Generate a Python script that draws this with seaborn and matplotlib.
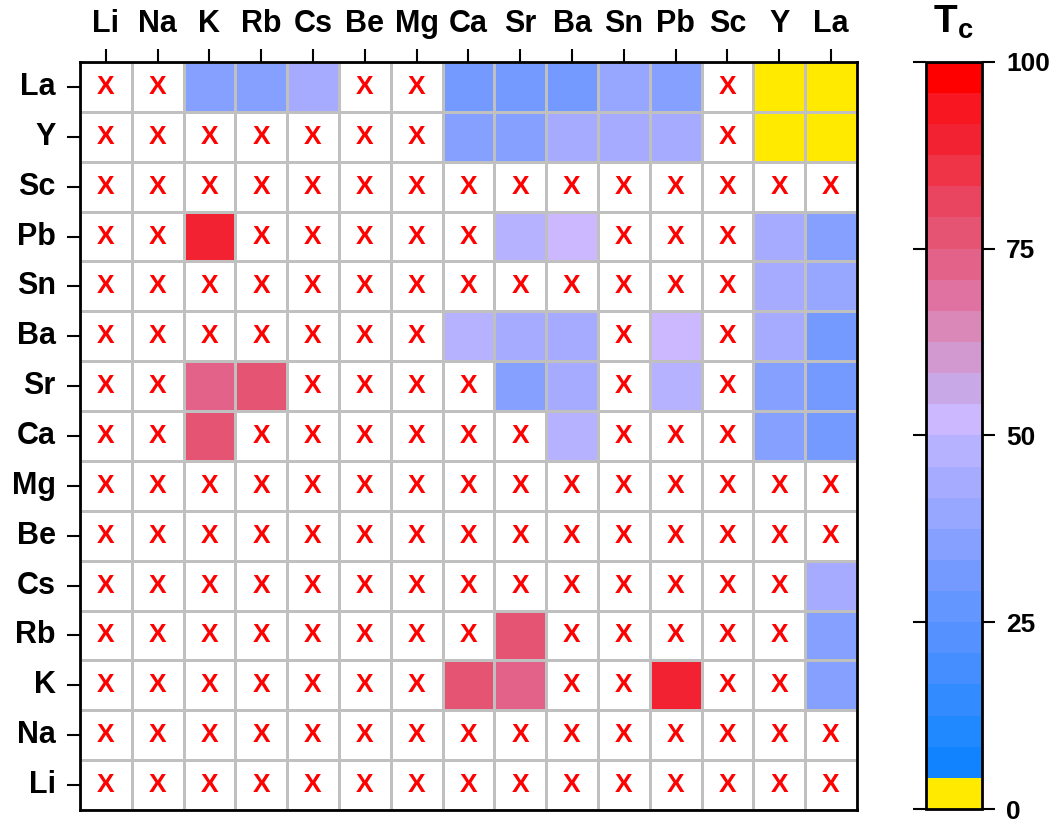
import numpy as np
import pandas as pd
import matplotlib
matplotlib.use('Agg')
import matplotlib.pyplot as plt
from matplotlib.colors import ListedColormap, BoundaryNorm
import seaborn as sns

plt.rcParams['font.family'] = ['Liberation Sans', 'DejaVu Sans']
plt.rcParams['font.weight'] = 'bold'
plt.rcParams['mathtext.fontset'] = 'custom'
plt.rcParams['mathtext.bf'] = 'Liberation Sans:bold'
plt.rcParams['mathtext.rm'] = 'Liberation Sans:bold'

# column order (left -> right); rows are drawn in the reverse order (La on top)
elements = ['Li', 'Na', 'K', 'Rb', 'Cs', 'Be', 'Mg', 'Ca', 'Sr', 'Ba', 'Sn', 'Pb', 'Sc', 'Y', 'La']
row_order = elements[::-1]

nan = np.nan
# Tc for each row element, columns follow `elements`; nan = no entry (shown as X)
tc_La = [nan, nan, 35, 35, 44, nan, nan, 31, 31, 30, 40, 35, nan, 0, 0]
tc_Y = [nan, nan, nan, nan, nan, nan, nan, 35, 35, 44, 44, 44, nan, 0, 0]
tc_Sc = [nan, nan, nan, nan, nan, nan, nan, nan, nan, nan, nan, nan, nan, nan, nan]
tc_Pb = [nan, nan, 90, nan, nan, nan, nan, nan, 48, 52, nan, nan, nan, 44, 35]
tc_Sn = [nan, nan, nan, nan, nan, nan, nan, nan, nan, nan, nan, nan, nan, 44, 40]
tc_Ba = [nan, nan, nan, nan, nan, nan, nan, 48, 42, 44, nan, 52, nan, 44, 31]
tc_Sr = [nan, nan, 73, 77, nan, nan, nan, nan, 35, 44, nan, 46, nan, 35, 31]
tc_Ca = [nan, nan, 77, nan, nan, nan, nan, nan, nan, 48, nan, nan, nan, 35, 31]
tc_Mg = [nan, nan, nan, nan, nan, nan, nan, nan, nan, nan, nan, nan, nan, nan, nan]
tc_Be = [nan, nan, nan, nan, nan, nan, nan, nan, nan, nan, nan, nan, nan, nan, nan]
tc_Cs = [nan, nan, nan, nan, nan, nan, nan, nan, nan, nan, nan, nan, nan, nan, 44]
tc_Rb = [nan, nan, nan, nan, nan, nan, nan, nan, 77, nan, nan, nan, nan, nan, 35]
tc_K = [nan, nan, nan, nan, nan, nan, nan, 77, 73, nan, nan, 90, nan, nan, 35]
tc_Na = [nan, nan, nan, nan, nan, nan, nan, nan, nan, nan, nan, nan, nan, nan, nan]
tc_Li = [nan, nan, nan, nan, nan, nan, nan, nan, nan, nan, nan, nan, nan, nan, nan]

cbar_ticks = [0, 25, 50, 75, 100]

# 24 discrete colour steps from 0 to 100
step_colors = ['#ffea00', '#1283ff', '#2189ff', '#338cff', '#448eff', '#5592ff',
               '#6496ff', '#749aff', '#86a0ff', '#97a6ff', '#a7abff', '#b7b2ff',
               '#ccb8ff', '#c9a8e8', '#d298d0', '#d988b8', '#df72a0', '#e2628a',
               '#e65474', '#ea4560', '#ef3448', '#f22232', '#f81620', '#ff0000']

tc = pd.DataFrame([tc_La, tc_Y, tc_Sc, tc_Pb, tc_Sn, tc_Ba, tc_Sr, tc_Ca,
                   tc_Mg, tc_Be, tc_Cs, tc_Rb, tc_K, tc_Na, tc_Li],
                  index=row_order, columns=elements)

missing = tc.isna()
x_labels = np.where(missing.values, 'X', '')

cmap = ListedColormap(step_colors)
cmap.set_bad('white')
norm = BoundaryNorm(np.linspace(0, 100, len(step_colors) + 1), cmap.N)

fig = plt.figure(figsize=(10.59, 8.23), dpi=100)
ax = fig.add_axes([0.0755, 0.0158, 0.7337, 0.9089])
cax = fig.add_axes([0.8744, 0.0170, 0.0529, 0.9080])

# white base layer carrying the X marks
sns.heatmap(np.zeros(tc.shape), cmap=ListedColormap(['white']), cbar=False,
            annot=x_labels, fmt='',
            annot_kws={'color': 'red', 'fontsize': 19, 'fontweight': 'bold'},
            linewidths=2, linecolor='#c0c0c0', ax=ax)

# Tc values
sns.heatmap(tc, mask=missing, cmap=cmap, norm=norm,
            linewidths=2, linecolor='#c0c0c0',
            cbar_ax=cax, cbar_kws={'ticks': cbar_ticks}, ax=ax)

ax.set_xticklabels(elements, rotation=0, fontsize=22, fontweight='bold')
ax.set_yticklabels(row_order, rotation=0, fontsize=22, fontweight='bold')
ax.xaxis.tick_top()
ax.tick_params(axis='x', top=True, bottom=False, direction='out', length=9.5, width=1.5, pad=7)
ax.tick_params(axis='y', left=True, direction='out', length=9.5, width=1.5, pad=8)
for s in ax.spines.values():
    s.set_visible(True)
    s.set_color('black')
    s.set_linewidth(2)

cbar = ax.collections[-1].colorbar
cbar.outline.set_linewidth(2)
cbar.outline.set_edgecolor('black')
cbar.set_ticks(cbar_ticks)
cbar.ax.minorticks_off()
cbar.ax.tick_params(axis='y', left=True, right=True, labelleft=False, labelright=True,
                    direction='out', length=9.5, width=1.5, labelsize=19, pad=8)
for t in cbar.ax.get_yticklabels():
    t.set_fontweight('bold')

fig.text(953 / 1059, 1 - 33 / 823, r'$\mathbf{T}_{\mathbf{c}}$', fontsize=28,
         ha='center', va='baseline')

plt.savefig('out.png', dpi=100)
